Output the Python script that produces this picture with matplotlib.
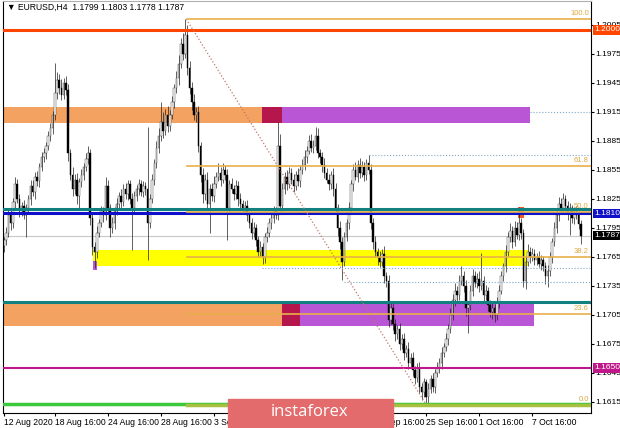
import numpy as np
import matplotlib.pyplot as plt
from matplotlib.patches import Rectangle
from matplotlib.transforms import blended_transform_factory

plt.rcParams['font.family'] = ['Liberation Sans', 'DejaVu Sans']

# EURUSD H4 closes, in pips (11782 -> 1.1782)
closes = [
    11782, 11790, 11808, 11800, 11822, 11840, 11825, 11812, 11818, 11808,
    11815, 11825, 11838, 11832, 11848, 11843, 11858, 11868, 11872, 11880,
    11890, 11898, 11912, 11935, 11948, 11940, 11932, 11945, 11938, 11872,
    11850, 11835, 11845, 11828, 11842, 11850, 11858, 11866, 11872, 11805,
    11775, 11770, 11790, 11800, 11812, 11808, 11838, 11815, 11795, 11800,
    11812, 11820, 11828, 11822, 11835, 11830, 11840, 11825, 11815, 11828,
    11835, 11840, 11832, 11838, 11835, 11800, 11825, 11845, 11862, 11878,
    11890, 11905, 11895, 11912, 11900, 11912, 11925, 11940, 11950, 11965,
    11985, 11975, 11995, 11960, 11940, 11925, 11912, 11915, 11880, 11850,
    11830, 11845, 11820, 11835, 11828, 11840, 11848, 11852, 11845, 11855,
    11850, 11815, 11840, 11835, 11830, 11838, 11825, 11820, 11815, 11818,
    11808, 11800, 11790, 11795, 11782, 11770, 11775, 11765, 11785, 11790,
    11800, 11805, 11812, 11808, 11880, 11818, 11835, 11848, 11840, 11852,
    11845, 11838, 11850, 11843, 11855, 11860, 11868, 11875, 11885, 11878,
    11880, 11890, 11872, 11868, 11860, 11852, 11845, 11840, 11850, 11835,
    11815, 11795, 11780, 11760, 11785, 11800, 11815, 11840, 11855, 11848,
    11860, 11852, 11858, 11850, 11862, 11855, 11800, 11780, 11770, 11765,
    11760, 11768, 11745, 11740, 11700, 11712, 11695, 11685, 11690, 11675,
    11680, 11665, 11670, 11655, 11660, 11648, 11640, 11650, 11630, 11625,
    11635, 11620, 11628, 11638, 11630, 11645, 11650, 11655, 11665, 11672,
    11680, 11690, 11705, 11720, 11730, 11725, 11740, 11745, 11735, 11712,
    11715, 11730, 11745, 11738, 11742, 11735, 11740, 11725, 11730, 11715,
    11708, 11712, 11705, 11718, 11730, 11745, 11755, 11770, 11785, 11792,
    11780, 11795, 11788, 11800, 11790, 11740, 11760, 11770, 11765, 11768,
    11762, 11765, 11758, 11762, 11755, 11745, 11750, 11765, 11780, 11795,
    11808, 11820, 11815, 11825, 11818, 11810, 11815, 11805, 11812, 11808,
    11799, 11787,
]
first_open = 11776

# upper / lower shadows in pips
up_wick = [
    4, 6, 5, 8, 4, 8, 6, 5, 4, 6,  5, 4, 6, 7, 5, 6, 4, 5, 6, 4,
    5, 6, 4, 31, 8, 6, 9, 5, 7, 6,  5, 8, 6, 7, 5, 6, 4, 6, 8, 5,
    6, 5, 7, 4, 6, 5, 10, 6, 5, 6,  5, 6, 4, 7, 5, 6, 5, 4, 6, 5,
    4, 6, 5, 5, 4, 64, 5, 6, 4, 7,  8, 20, 10, 6, 9, 5, 6, 4, 7, 9,
    6, 12, 16, 10, 8, 6, 9, 5, 6, 4,  7, 6, 8, 5, 6, 9, 5, 10, 6, 7,
    5, 6, 5, 7, 4, 6, 5, 6, 4, 5,  6, 4, 5, 6, 4, 5, 6, 4, 5, 6,
    5, 4, 6, 5, 25, 12, 6, 5, 7, 6,  5, 6, 4, 7, 5, 6, 8, 5, 6, 7,
    6, 9, 8, 5, 6, 7, 5, 6, 4, 7,  6, 5, 7, 5, 6, 4, 7, 5, 6, 8,
    5, 7, 6, 5, 4, 8, 6, 5, 7, 4,  6, 5, 8, 4, 6, 7, 5, 6, 4, 6,
    5, 6, 4, 7, 5, 6, 4, 5, 6, 4,  5, 4, 6, 5, 7, 4, 6, 5, 7, 4,
    6, 5, 7, 6, 8, 5, 6, 10, 5, 6,  4, 6, 7, 5, 6, 8, 29, 5, 6, 4,
    5, 6, 4, 5, 6, 5, 4, 7, 6, 8,  5, 7, 6, 17, 5, 4, 6, 8, 5, 6,
    5, 4, 6, 5, 4, 5, 6, 5, 4, 6,  5, 7, 6, 6, 4, 5, 6, 4, 5, 6,
    4, 4,
]
dn_wick = [
    6, 5, 4, 7, 5, 6, 4, 6, 5, 4,  23, 5, 6, 4, 7, 5, 6, 4, 5, 6,
    4, 5, 6, 5, 7, 6, 5, 4, 6, 8,  6, 7, 5, 8, 13, 5, 6, 4, 5, 7,
    8, 17, 6, 5, 4, 7, 5, 6, 10, 5,  6, 4, 5, 6, 4, 5, 6, 5, 43, 4,
    5, 6, 4, 5, 6, 38, 5, 4, 6, 5,  6, 5, 7, 4, 6, 5, 4, 6, 5, 7,
    5, 6, 4, 7, 6, 8, 5, 7, 6, 8,  9, 6, 7, 30, 5, 6, 4, 5, 7, 4,
    6, 33, 5, 4, 6, 5, 7, 4, 6, 5,  6, 5, 7, 4, 6, 5, 4, 7, 6, 5,
    4, 6, 5, 4, 5, 6, 7, 5, 6, 4,  5, 6, 4, 5, 6, 4, 5, 6, 4, 5,
    6, 4, 5, 6, 7, 5, 4, 6, 5, 7,  6, 8, 7, 19, 5, 4, 6, 5, 7, 4,
    6, 5, 4, 7, 5, 4, 6, 7, 5, 8,  6, 5, 7, 6, 8, 5, 6, 7, 5, 6,
    5, 7, 4, 6, 5, 6, 7, 5, 6, 8,  5, 8, 6, 4, 5, 6, 4, 5, 6, 4,
    5, 6, 4, 5, 6, 7, 5, 4, 6, 8,  26, 5, 6, 4, 5, 6, 4, 7, 5, 6,
    5, 7, 8, 5, 6, 4, 5, 6, 4, 5,  6, 4, 5, 6, 7, 6, 8, 5, 6, 4,
    6, 5, 4, 7, 5, 8, 11, 5, 6, 4,  5, 6, 5, 4, 6, 7, 22, 5, 6, 4,
    5, 9,
]

price_ticks = [1.2005, 1.1975, 1.1945, 1.1915, 1.1885, 1.1855, 1.1825,
               1.1795, 1.1765, 1.1735, 1.1705, 1.1675, 1.1645, 1.1615]
time_pos = [0, 23, 47, 71, 95, 119, 143, 167, 191, 215, 239]
time_labels = ['12 Aug 2020', '18 Aug 16:00', '24 Aug 16:00', '28 Aug 16:00',
               '3 Sep 16:00', '9 Sep 16:00', '15 Sep 16:00', '21 Sep 16:00',
               '25 Sep 16:00', '1 Oct 16:00', '7 Oct 16:00']

fib_levels = ['100.0', '61.8', '50.0', '38.2', '23.6', '0.0']
fib_high = 1.2011
fib_low = 1.1612
fib_ratio = [1.0, 0.618, 0.5, 0.382, 0.236, 0.0]

c = np.array(closes) / 10000
o = np.r_[first_open / 10000, c[:-1]]
h = np.maximum(o, c) + np.array(up_wick) / 10000
l = np.minimum(o, c) - np.array(dn_wick) / 10000
idx = np.arange(len(c))
x_end = 265.6

fig = plt.figure(figsize=(6.2, 4.28), dpi=100)
ax = fig.add_axes([3 / 620, 15 / 428, 588 / 620, 412 / 428])
ax.set_xlim(-0.45, x_end)
ax.set_ylim(1.16033, 1.20298)

# zones
def zone(x0, x1, y0, y1, col):
    ax.add_patch(Rectangle((x0, y0), x1 - x0, y1 - y0, color=col, lw=0, zorder=1))

zone(-0.45, 116.7, 1.1904, 1.1920, '#f4a261')
zone(116.7, 125.8, 1.1904, 1.1920, '#b5164c')
zone(125.8, 238.0, 1.1904, 1.1920, '#b856d6')
zone(-0.45, 126.0, 1.1693, 1.1716, '#f4a261')
zone(126.0, 134.0, 1.1693, 1.1716, '#b5164c')
zone(134.0, 239.8, 1.1693, 1.1716, '#b856d6')
zone(40.3, 237.0, 1.1755, 1.1772, '#ffff00')
zone(40.3, 42.0, 1.1751, 1.1761, '#b856d6')
zone(232.6, 235.3, 1.1805, 1.1817, '#f05a28')

# candles
up = c >= o
ax.vlines(idx, l, h, color='#202020', lw=0.5, zorder=2)
ax.bar(idx[up], (c - o)[up], bottom=o[up], width=0.7, color='white',
       edgecolor='#303030', lw=0.3, zorder=2)
ax.bar(idx[~up], (o - c)[~up], bottom=c[~up], width=0.7, color='black',
       edgecolor='black', lw=0.3, zorder=2)

# horizontal levels
ax.axhline(1.1787, color='#c8c8c8', lw=0.8, zorder=1.5)
ax.axhline(1.2000, color='#ff4500', lw=2.2, zorder=3)
ax.axhline(1.18145, color='#108080', lw=2.2, zorder=3)
ax.axhline(1.1810, color='#1010c8', lw=2.2, zorder=3)
ax.axhline(1.17186, color='#108080', lw=2.2, zorder=3)
ax.axhline(1.1650, color='#c0188a', lw=1.5, zorder=3)
ax.axhline(1.16127, color='#3cc83c', lw=2.5, zorder=3)

# dotted levels
for y0, x0 in [(1.1915, 238), (1.1870, 165), (1.17538, 116.7), (1.1739, 154)]:
    ax.plot([x0, x_end], [y0, y0], ':', color='#80a8c8', lw=0.8, zorder=3)

# fibonacci
ax.plot([82.5, 191], [fib_high, fib_low], ':', color='#c07868', lw=0.9, zorder=3)
for lab, r in zip(fib_levels, fib_ratio):
    y0 = fib_low + r * (fib_high - fib_low)
    col = '#a8c040' if r == 0 else '#e8b04a'
    ax.plot([83, x_end], [y0, y0], color=col, lw=1.2 if r else 2.5, zorder=3.2)
    ax.text(x_end - 1, y0 + 0.0002, lab, color='#e0a840', fontsize=5.5,
            ha='right', va='bottom', zorder=4)

# axes look
for s in ['left', 'right', 'bottom']:
    ax.spines[s].set_color('black')
    ax.spines[s].set_linewidth(0.8)
ax.spines['top'].set_color('#b0b0b0')
ax.yaxis.tick_right()
ax.set_yticks(price_ticks)
ax.set_yticklabels([f'{p:.4f}' for p in price_ticks])
ax.tick_params(axis='y', length=2, labelsize=6.0, pad=0.8)
ax.set_xticks(time_pos)
ax.set_xticklabels(time_labels)
ax.tick_params(axis='x', length=2, labelsize=6.2, pad=1.5)
for t in ax.get_xticklabels():
    t.set_ha('left')

# price boxes on the scale
tr = blended_transform_factory(ax.transAxes, ax.transData)
for p, col in [(1.2000, '#ff4500'), (1.1810, '#1010c8'),
               (1.1787, '#000000'), (1.1650, '#c0188a')]:
    ax.text(1.005, p, f'{p:.4f}', transform=tr, color='white', fontsize=6.0,
            ha='left', va='center', clip_on=False, zorder=5,
            bbox=dict(boxstyle='square,pad=0.15', fc=col, ec='none'))

ax.text(4 / 588, 1 - 6 / 412, '\u25bc EURUSD,H4  1.1799 1.1803 1.1778 1.1787',
        transform=ax.transAxes, fontsize=6.2, va='center', ha='left')

# logo
fig.patches.append(Rectangle((228 / 620, 0), 165 / 620, 29 / 428,
                             transform=fig.transFigure, color='#e36b6b', zorder=10))
fig.text(310 / 620, 16 / 428, 'instaforex', color='white', fontsize=12,
         family='Open Sans', ha='center', va='center', zorder=11)

plt.savefig('out.png', dpi=100)
